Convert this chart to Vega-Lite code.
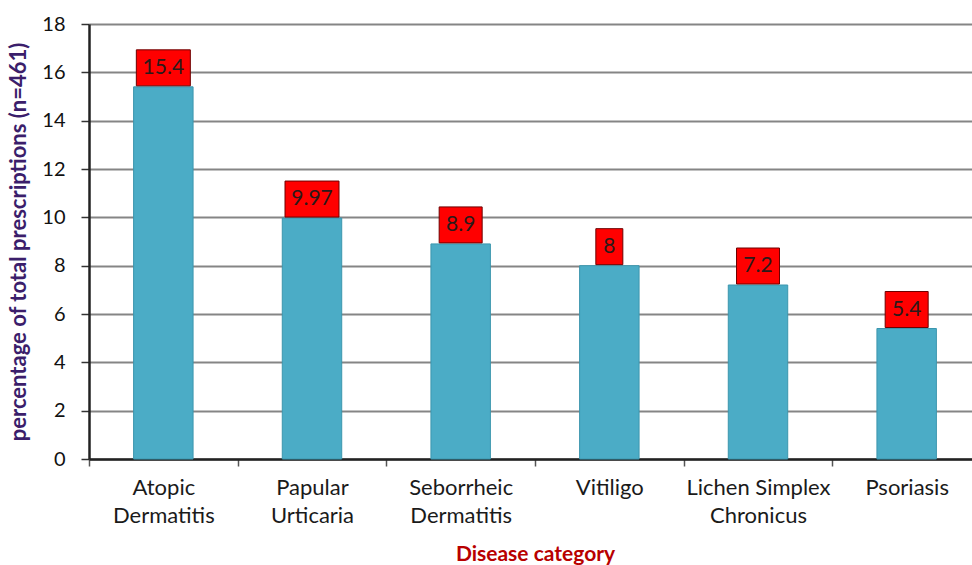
{
  "$schema": "https://vega.github.io/schema/vega-lite/v6.json",
  "width": 883,
  "height": 435,
  "autosize": {"type": "none"},
  "padding": {"left": 89, "top": 24, "right": 0, "bottom": 106},
  "background": "white",
  "config": {"view": {"stroke": null}, "font": "Lato"},
  "data": {
    "values": [
      {"category": "Atopic Dermatitis", "value": 15.4},
      {"category": "Papular Urticaria", "value": 9.97},
      {"category": "Seborrheic Dermatitis", "value": 8.9},
      {"category": "Vitiligo", "value": 8},
      {"category": "Lichen Simplex Chronicus", "value": 7.2},
      {"category": "Psoriasis", "value": 5.4}
    ]
  },
  "encoding": {
    "x": {
      "field": "category",
      "type": "nominal",
      "sort": null,
      "scale": {"range": [0, 892], "paddingInner": 0, "paddingOuter": 0},
      "axis": {
        "title": "Disease category",
        "titleColor": "#B80000",
        "titleFont": "Lato",
        "titleFontSize": 21,
        "titleFontWeight": "bold",
        "titlePadding": 17,
        "labelAngle": 0,
        "labelFont": "Lato",
        "labelFontSize": 22,
        "labelLineHeight": 28,
        "labelPadding": 11,
        "labelColor": "#1a1a1a",
        "labelExpr": "!isValid(datum.value) ? '' : datum.value == 'Lichen Simplex Chronicus' ? ['Lichen Simplex', 'Chronicus'] : split(datum.value, ' ')",
        "domainColor": "#222222",
        "domainWidth": 2.5,
        "tickBand": "extent",
        "tickSize": 7,
        "tickWidth": 1.5,
        "tickColor": "#555555",
        "grid": false
      }
    },
    "y": {
      "field": "value",
      "type": "quantitative",
      "scale": {"domain": [0, 18], "nice": false},
      "axis": {
        "title": "percentage of total prescriptions (n=461)",
        "titleColor": "#3B1E6B",
        "titleFont": "Lato",
        "titleFontSize": 22,
        "titleFontWeight": "bold",
        "titlePadding": 11,
        "values": [0, 2, 4, 6, 8, 10, 12, 14, 16, 18],
        "labelFont": "Lato",
        "labelFontSize": 20,
        "labelColor": "#111111",
        "labelPadding": 16,
        "grid": true,
        "gridColor": "#858585",
        "gridWidth": 2,
        "domainColor": "#222222",
        "domainWidth": 2.5,
        "tickColor": "#333333",
        "tickSize": 8,
        "tickWidth": 1.5
      }
    }
  },
  "layer": [
    {
      "mark": {"type": "bar", "width": {"band": 0.4}, "color": "#4BACC6", "stroke": "#3C96AE", "strokeWidth": 1}
    },
    {
      "mark": {
        "type": "bar",
        "color": "#FF0000",
        "stroke": "#6E0000",
        "strokeWidth": 1,
        "width": {"expr": "11*length(datum.value+'') - (indexof(datum.value+'', '.') >= 0 ? 6 : 0) + 16"},
        "yOffset": -37,
        "y2Offset": -1
      },
      "encoding": {"y2": {"field": "value"}}
    },
    {
      "mark": {"type": "text", "dy": -19, "fontSize": 21, "font": "Lato", "color": "#2a1a1a", "baseline": "middle", "align": "center"},
      "encoding": {"text": {"field": "value", "type": "nominal"}}
    }
  ]
}
